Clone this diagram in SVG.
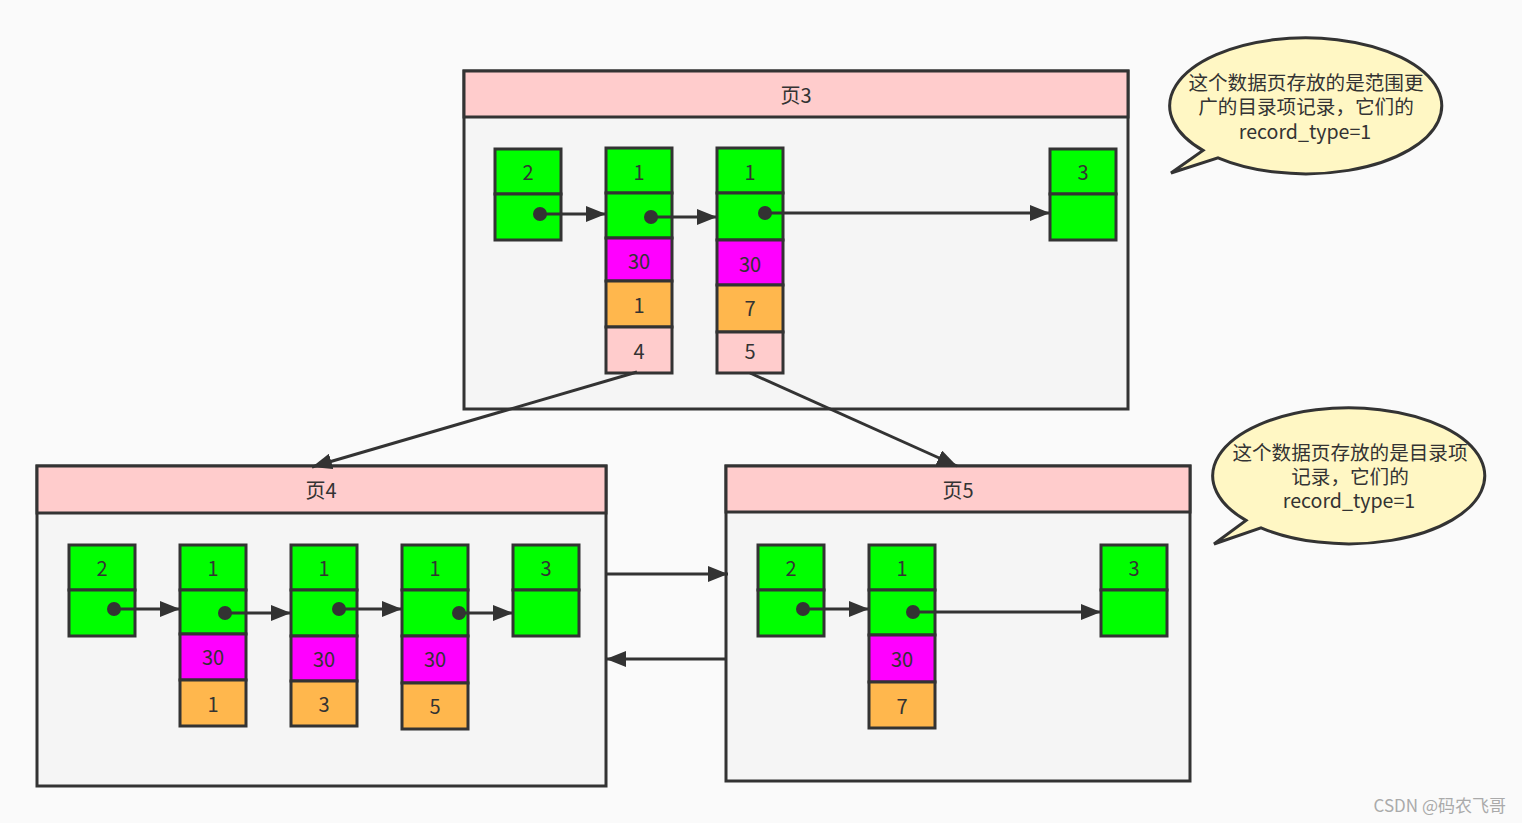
<svg xmlns="http://www.w3.org/2000/svg" width="1522" height="823" viewBox="0 0 1522 823">
<style>
.page{fill:#f5f5f5;stroke:#333;stroke-width:3}
.hdr{fill:#ffcccc;stroke:#333;stroke-width:3}
.g{fill:#00ff00;stroke:#333;stroke-width:3}
.m{fill:#ff00ff;stroke:#333;stroke-width:3}
.o{fill:#ffb74d;stroke:#333;stroke-width:3}
.p{fill:#ffcccc;stroke:#333;stroke-width:3}
.t{font-family:"Noto Sans CJK SC","Liberation Sans",sans-serif;font-size:20px;fill:#333;text-anchor:middle;dominant-baseline:central}
.c{font-family:"Noto Sans CJK SC","Liberation Sans",sans-serif;font-size:19.6px;fill:#333;text-anchor:middle;dominant-baseline:central}
.ln{stroke:#333;stroke-width:3;fill:none}
.dot{fill:#333}
.call{fill:#fff7c4;stroke:#333;stroke-width:3}
</style>
<defs>
<marker id="ah" markerUnits="userSpaceOnUse" markerWidth="20" markerHeight="16" refX="20" refY="8" orient="auto">
<path d="M0,0 L20,8 L0,16 z" fill="#333"/>
</marker>
</defs>
<rect width="1522" height="823" fill="#fafafa"/>

<g id="page3">
<rect class="page" x="464" y="71" width="664" height="338"/>
<rect class="hdr" x="464" y="71" width="664" height="46"/>
<text class="t" x="796" y="94">页3</text>
</g>
<g id="page4">
<rect class="page" x="37" y="466" width="569" height="320"/>
<rect class="hdr" x="37" y="466" width="569" height="47"/>
<text class="t" x="321" y="489">页4</text>
</g>
<g id="page5">
<rect class="page" x="726" y="466" width="464" height="315"/>
<rect class="hdr" x="726" y="466" width="464" height="46"/>
<text class="t" x="958" y="489">页5</text>
</g>

<g id="p3r1">
<rect class="g" x="495" y="149" width="66" height="45"/><text class="t" x="528" y="171">2</text>
<rect class="g" x="495" y="194" width="66" height="46"/>
</g>
<g id="p3r2">
<rect class="g" x="606" y="148" width="66" height="45"/><text class="t" x="639" y="171">1</text>
<rect class="g" x="606" y="193" width="66" height="45"/>
<rect class="m" x="606" y="238" width="66" height="43"/><text class="t" x="639" y="260">30</text>
<rect class="o" x="606" y="281" width="66" height="46"/><text class="t" x="639" y="304">1</text>
<rect class="p" x="606" y="327" width="66" height="46"/><text class="t" x="639" y="350">4</text>
</g>
<g id="p3r3">
<rect class="g" x="717" y="148" width="66" height="45"/><text class="t" x="750" y="171">1</text>
<rect class="g" x="717" y="193" width="66" height="47"/>
<rect class="m" x="717" y="240" width="66" height="45"/><text class="t" x="750" y="263">30</text>
<rect class="o" x="717" y="285" width="66" height="47"/><text class="t" x="750" y="307">7</text>
<rect class="p" x="717" y="332" width="66" height="41"/><text class="t" x="750" y="350">5</text>
</g>
<g id="p3r4">
<rect class="g" x="1050" y="149" width="66" height="45"/><text class="t" x="1083" y="171">3</text>
<rect class="g" x="1050" y="194" width="66" height="46"/>
</g>

<g id="p4r1">
<rect class="g" x="69" y="545" width="66" height="45"/><text class="t" x="102" y="567">2</text>
<rect class="g" x="69" y="590" width="66" height="46"/>
</g>
<g id="p4r2">
<rect class="g" x="180" y="545" width="66" height="45"/><text class="t" x="213" y="567">1</text>
<rect class="g" x="180" y="590" width="66" height="44"/>
<rect class="m" x="180" y="634" width="66" height="46"/><text class="t" x="213" y="656">30</text>
<rect class="o" x="180" y="680" width="66" height="46"/><text class="t" x="213" y="703">1</text>
</g>
<g id="p4r3">
<rect class="g" x="291" y="545" width="66" height="45"/><text class="t" x="324" y="567">1</text>
<rect class="g" x="291" y="590" width="66" height="46"/>
<rect class="m" x="291" y="636" width="66" height="45"/><text class="t" x="324" y="658">30</text>
<rect class="o" x="291" y="681" width="66" height="45"/><text class="t" x="324" y="703">3</text>
</g>
<g id="p4r4">
<rect class="g" x="402" y="545" width="66" height="45"/><text class="t" x="435" y="567">1</text>
<rect class="g" x="402" y="590" width="66" height="46"/>
<rect class="m" x="402" y="636" width="66" height="47"/><text class="t" x="435" y="658">30</text>
<rect class="o" x="402" y="683" width="66" height="46"/><text class="t" x="435" y="705">5</text>
</g>
<g id="p4r5">
<rect class="g" x="513" y="545" width="66" height="45"/><text class="t" x="546" y="567">3</text>
<rect class="g" x="513" y="590" width="66" height="46"/>
</g>

<g id="p5r1">
<rect class="g" x="758" y="545" width="66" height="45"/><text class="t" x="791" y="567">2</text>
<rect class="g" x="758" y="590" width="66" height="46"/>
</g>
<g id="p5r2">
<rect class="g" x="869" y="545" width="66" height="45"/><text class="t" x="902" y="567">1</text>
<rect class="g" x="869" y="590" width="66" height="45"/>
<rect class="m" x="869" y="635" width="66" height="47"/><text class="t" x="902" y="658">30</text>
<rect class="o" x="869" y="682" width="66" height="46"/><text class="t" x="902" y="705">7</text>
</g>
<g id="p5r3">
<rect class="g" x="1101" y="545" width="66" height="45"/><text class="t" x="1134" y="567">3</text>
<rect class="g" x="1101" y="590" width="66" height="46"/>
</g>

<g id="connectors">
<line class="ln" x1="540" y1="214" x2="606" y2="214" marker-end="url(#ah)"/>
<circle class="dot" cx="540" cy="214" r="7"/>
<line class="ln" x1="651" y1="217" x2="717" y2="217" marker-end="url(#ah)"/>
<circle class="dot" cx="651" cy="217" r="7"/>
<line class="ln" x1="765" y1="213" x2="1050" y2="213" marker-end="url(#ah)"/>
<circle class="dot" cx="765" cy="213" r="7"/>

<line class="ln" x1="637" y1="372" x2="312" y2="467" marker-end="url(#ah)"/>
<line class="ln" x1="750" y1="373" x2="957" y2="466" marker-end="url(#ah)"/>

<line class="ln" x1="114" y1="609" x2="180" y2="609" marker-end="url(#ah)"/>
<circle class="dot" cx="114" cy="609" r="7"/>
<line class="ln" x1="225" y1="613" x2="291" y2="613" marker-end="url(#ah)"/>
<circle class="dot" cx="225" cy="613" r="7"/>
<line class="ln" x1="339" y1="609" x2="402" y2="609" marker-end="url(#ah)"/>
<circle class="dot" cx="339" cy="609" r="7"/>
<line class="ln" x1="459" y1="613" x2="513" y2="613" marker-end="url(#ah)"/>
<circle class="dot" cx="459" cy="613" r="7"/>

<line class="ln" x1="803" y1="609" x2="869" y2="609" marker-end="url(#ah)"/>
<circle class="dot" cx="803" cy="609" r="7"/>
<line class="ln" x1="913" y1="612" x2="1101" y2="612" marker-end="url(#ah)"/>
<circle class="dot" cx="913" cy="612" r="7"/>

<line class="ln" x1="606" y1="574" x2="728" y2="574" marker-end="url(#ah)"/>
<line class="ln" x1="726" y1="659" x2="606" y2="659" marker-end="url(#ah)"/>
</g>

<g id="callout1">
<path class="call" d="M1203,150.4 A136,68 0 1 1 1218,157.8 L1171,173 Z"/>
<text class="c" x="1306" y="81">这个数据页存放的是范围更</text>
<text class="c" x="1306" y="105">广的目录项记录，它们的</text>
<text class="c" x="1305" y="130">record_type=1</text>
</g>
<g id="callout2">
<path class="call" d="M1246,520.4 A136,68 0 1 1 1261,527.8 L1214,544 Z"/>
<text class="c" x="1350" y="451">这个数据页存放的是目录项</text>
<text class="c" x="1350" y="475">记录，它们的</text>
<text class="c" x="1349" y="499">record_type=1</text>
</g>

<text x="1506" y="804" font-family="'Noto Sans CJK SC','Liberation Sans',sans-serif" font-size="17" fill="#aaa" text-anchor="end" dominant-baseline="central">CSDN @码农飞哥</text>
</svg>
